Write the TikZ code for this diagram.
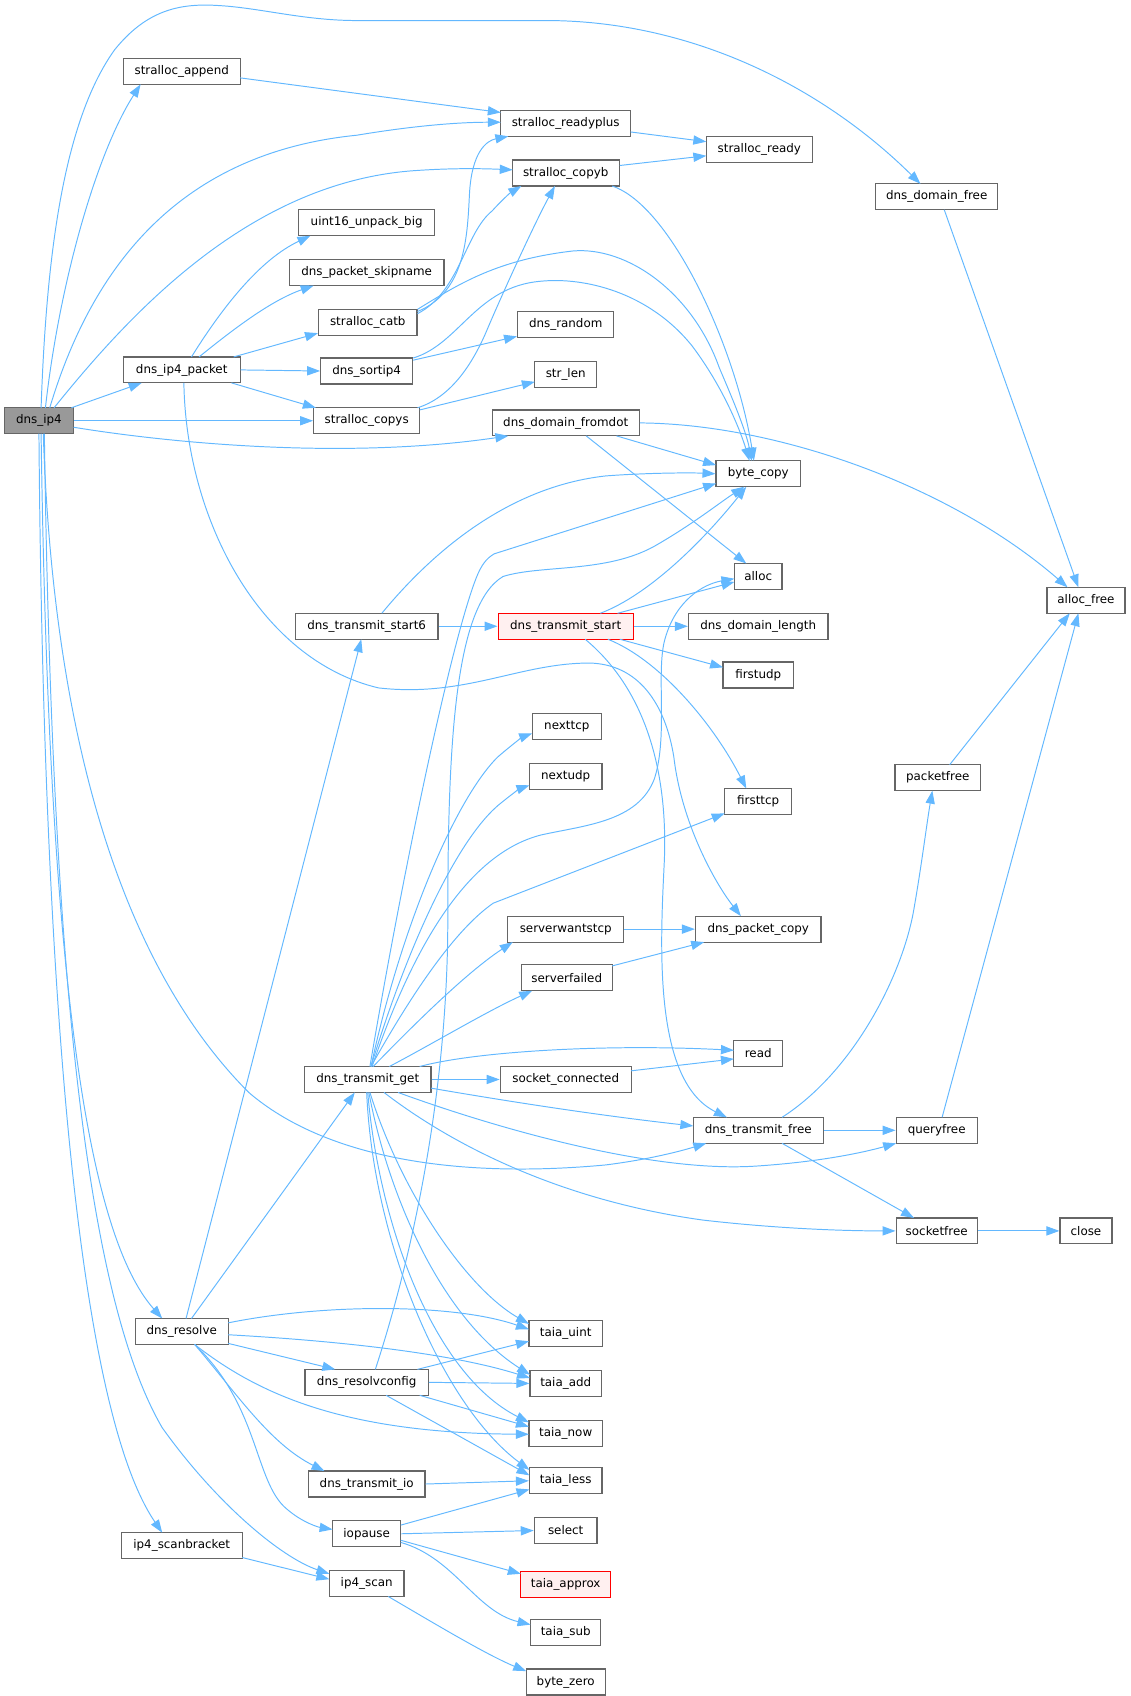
\documentclass[tikz,border=0pt]{standalone}
\usepackage{fontspec}
\setmainfont{DejaVu Sans}
\usetikzlibrary{arrows.meta}
\definecolor{edgeblue}{HTML}{63B8FF}
\definecolor{nodeborder}{HTML}{666666}
\definecolor{rootfill}{HTML}{999999}
\definecolor{hotfill}{HTML}{FFF0F0}
\tikzset{
  fn/.style={draw=nodeborder, line width=1.1pt, fill=white, minimum height=24pt,
    inner xsep=2pt, inner ysep=0pt, font=\fontsize{11}{13}\selectfont, text=black},
  root/.style={fn, fill=rootfill},
  hot/.style={fn, draw=red, fill=hotfill},
  e/.style={draw=edgeblue, line width=0.9pt, -{Triangle[length=12pt,width=8.5pt]}}
}
\begin{document}
\begin{tikzpicture}[x=1pt,y=-1pt]
\useasboundingbox (0,0) rectangle (1045,1568);
% nodes
\node[root, minimum width=64pt] (ip4) at (36,389) {dns\_ip4};
\node[fn, minimum width=108pt] (sapp) at (168,66) {stralloc\_append};
\node[fn, minimum width=120pt] (srp) at (523,114) {stralloc\_readyplus};
\node[fn, minimum width=98pt] (sr) at (702,138) {stralloc\_ready};
\node[fn, minimum width=99pt] (scb) at (523,160) {stralloc\_copyb};
\node[fn, minimum width=113pt] (ddf) at (866,182) {dns\_domain\_free};
\node[fn, minimum width=126pt] (u16) at (339,206) {uint16\_unpack\_big};
\node[fn, minimum width=143pt] (skip) at (339,252) {dns\_packet\_skipname};
\node[fn, minimum width=91pt] (catb) at (340,298) {stralloc\_catb};
\node[fn, minimum width=89pt] (rnd) at (523,300) {dns\_random};
\node[fn, minimum width=108pt] (pkt) at (168,342) {dns\_ip4\_packet};
\node[fn, minimum width=85pt] (sort) at (339,343) {dns\_sortip4};
\node[fn, minimum width=57pt] (slen) at (523,346) {str\_len};
\node[fn, minimum width=98pt] (scs) at (339,389) {stralloc\_copys};
\node[fn, minimum width=136pt] (dfd) at (523,391) {dns\_domain\_fromdot};
\node[fn, minimum width=78pt] (bc) at (701,438) {byte\_copy};
\node[fn, minimum width=44pt] (alloc) at (701,533) {alloc};
\node[fn, minimum width=72pt] (af) at (1004,555) {alloc\_free};
\node[fn, minimum width=132pt] (ts6) at (339,579) {dns\_transmit\_start6};
\node[hot, minimum width=125pt] (ts) at (523,579) {dns\_transmit\_start};
\node[fn, minimum width=129pt] (ddl) at (701,579) {dns\_domain\_length};
\node[fn, minimum width=65pt] (fudp) at (701,624) {firstudp};
\node[fn, minimum width=64pt] (ntcp) at (524,672) {nexttcp};
\node[fn, minimum width=79pt] (pf) at (867,719) {packetfree};
\node[fn, minimum width=67pt] (nudp) at (523,718) {nextudp};
\node[fn, minimum width=62pt] (ftcp) at (701,741) {firsttcp};
\node[fn, minimum width=107pt] (swt) at (523,859) {serverwantstcp};
\node[fn, minimum width=116pt] (dpc) at (701,859) {dns\_packet\_copy};
\node[fn, minimum width=84pt] (sf) at (524,904) {serverfailed};
\node[fn, minimum width=45pt] (rd) at (701,974) {read};
\node[fn, minimum width=117pt] (tg) at (340,998) {dns\_transmit\_get};
\node[fn, minimum width=121pt] (sc) at (523,998) {socket\_connected};
\node[fn, minimum width=120pt] (tf) at (701,1045) {dns\_transmit\_free};
\node[fn, minimum width=75pt] (qf) at (866,1045) {queryfree};
\node[fn, minimum width=75pt] (sfr) at (866,1138) {socketfree};
\node[fn, minimum width=48pt] (cl) at (1004,1138) {close};
\node[fn, minimum width=86pt] (res) at (168,1231) {dns\_resolve};
\node[fn, minimum width=68pt] (tu) at (523,1233) {taia\_uint};
\node[fn, minimum width=114pt] (rc) at (339,1278) {dns\_resolvconfig};
\node[fn, minimum width=66pt] (ta) at (523,1279) {taia\_add};
\node[fn, minimum width=68pt] (tn) at (523,1325) {taia\_now};
\node[fn, minimum width=108pt] (tio) at (339,1372) {dns\_transmit\_io};
\node[fn, minimum width=67pt] (tl) at (523,1369) {taia\_less};
\node[fn, minimum width=63pt] (iop) at (339,1418) {iopause};
\node[fn, minimum width=58pt] (sel) at (523,1415) {select};
\node[fn, minimum width=112pt] (isb) at (168,1429) {ip4\_scanbracket};
\node[hot, minimum width=83pt] (tap) at (523,1465) {taia\_approx};
\node[fn, minimum width=69pt] (isc) at (339,1464) {ip4\_scan};
\node[fn, minimum width=65pt] (tsub) at (523,1509) {taia\_sub};
\node[fn, minimum width=73pt] (bz) at (523,1555) {byte\_zero};
% edges from dns_ip4
\draw[e] ([shift={(6,-12)}]ip4.center) .. controls (55,260) and (90,140) .. ([shift={(-38,12)}]sapp.center);
\draw[e] ([shift={(2,-12)}]ip4.center) .. controls (43,230) and (60,110) .. (106,46) .. controls (135,10) and (165,3) .. (200,5) .. controls (240,7) and (280,19) .. (330,19) -- (508,19) .. controls (640,20) and (760,80) .. ([shift={(-15,-12)}]ddf.center);
\draw[e] ([shift={(10,-12)}]ip4.center) .. controls (90,230) and (180,140) .. (330,125) .. controls (390,115) and (430,113) .. ([shift={(-60,-1)}]srp.center);
\draw[e] ([shift={(14,-12)}]ip4.center) .. controls (120,290) and (230,170) .. (380,158) .. controls (420,155) and (450,156) .. ([shift={(-49,-3)}]scb.center);
\draw[e] ([shift={(30,-12)}]ip4.center) -- ([shift={(-37,12)}]pkt.center);
\draw[e] (ip4.east) -- (scs.west);
\draw[e] ([shift={(32,6)}]ip4.center) .. controls (160,410) and (320,425) .. ([shift={(-53,12)}]dfd.center);
\draw[e] ([shift={(4,12)}]ip4.center) .. controls (50,700) and (120,900) .. (230,1010) .. controls (300,1070) and (420,1090) .. (560,1077) .. controls (600,1072) and (630,1064) .. ([shift={(-48,12)}]tf.center);
\draw[e] ([shift={(2,12)}]ip4.center) .. controls (45,900) and (80,1140) .. ([shift={(-18,-12)}]res.center);
\draw[e] ([shift={(0,12)}]ip4.center) .. controls (40,900) and (70,1300) .. ([shift={(-18,-12)}]isb.center);
\draw[e] ([shift={(5,12)}]ip4.center) .. controls (48,900) and (80,1200) .. (150,1320) .. controls (200,1390) and (260,1440) .. ([shift={(-34.5,-9)}]isc.center);
% stralloc chain
\draw[e] ([shift={(54,6)}]sapp.center) -- ([shift={(-60,-10)}]srp.center);
\draw[e] ([shift={(60,8)}]srp.center) -- ([shift={(-49,-7)}]sr.center);
\draw[e] ([shift={(50,-7)}]scb.center) -- ([shift={(-49,6)}]sr.center);
\draw[e] ([shift={(43,12)}]scb.center) .. controls (620,190) and (680,320) .. ([shift={(-4,-12)}]bc.center);
\draw[e] ([shift={(7,12)}]ddf.center) -- ([shift={(-7,-12)}]af.center);
% dns_ip4_packet
\draw[e] ([shift={(9,-12)}]pkt.center) .. controls (205,285) and (240,240) .. ([shift={(-52,12)}]u16.center);
\draw[e] ([shift={(16,-12)}]pkt.center) .. controls (215,305) and (250,278) .. ([shift={(-49,12)}]skip.center);
\draw[e] ([shift={(48,-12)}]pkt.center) -- ([shift={(-46,10)}]catb.center);
\draw[e] (pkt.east) -- (sort.west);
\draw[e] ([shift={(46,12)}]pkt.center) -- ([shift={(-47,-12)}]scs.center);
\draw[e] ([shift={(2,12)}]pkt.center) .. controls (172,480) and (240,610) .. (350,636) .. controls (430,645) and (480,613) .. (545,613) .. controls (590,614) and (615,650) .. (623,700) .. controls (630,760) and (660,815) .. ([shift={(-16,-12)}]dpc.center);
% stralloc_catb
\draw[e] ([shift={(46,-10)}]catb.center) .. controls (430,270) and (432,220) .. (434,180) .. controls (436,140) and (450,130) .. ([shift={(-53,12)}]srp.center);
\draw[e] ([shift={(46,-8)}]catb.center) .. controls (425,270) and (430,215) .. (455,195) .. controls (463,186) and (472,178) .. ([shift={(-41,12)}]scb.center);
\draw[e] ([shift={(46,-12)}]catb.center) .. controls (425,262) and (460,240) .. (530,232) .. controls (580,228) and (640,270) .. (665,340) .. controls (680,375) and (690,400) .. ([shift={(-6,-12)}]bc.center);
% dns_sortip4
\draw[e] ([shift={(43,-10)}]sort.center) -- ([shift={(-45,11)}]rnd.center);
\draw[e] ([shift={(43,-12)}]sort.center) .. controls (425,318) and (440,265) .. (500,260) .. controls (540,256) and (600,270) .. (640,320) .. controls (670,360) and (685,400) .. ([shift={(-8,-12)}]bc.center);
% stralloc_copys
\draw[e] ([shift={(47,-12)}]scs.center) .. controls (415,368) and (435,340) .. (449,308) .. controls (465,270) and (495,205) .. ([shift={(-10,12)}]scb.center);
\draw[e] ([shift={(49,-10)}]scs.center) -- ([shift={(-28.5,7)}]slen.center);
% dns_domain_fromdot
\draw[e] ([shift={(47,12)}]dfd.center) -- ([shift={(-39,-8)}]bc.center);
\draw[e] ([shift={(19,12)}]dfd.center) -- ([shift={(-11,-12)}]alloc.center);
\draw[e] (dfd.east) .. controls (720,392) and (880,450) .. ([shift={(-17,-12)}]af.center);
% dns_transmit_start6
\draw[e] ([shift={(14,-12)}]ts6.center) .. controls (400,510) and (470,450) .. (560,440) .. controls (600,437) and (640,437) .. (bc.west);
\draw[e] (ts6.east) -- (ts.west);
% dns_transmit_start
\draw[e] ([shift={(32,-12)}]ts.center) .. controls (600,550) and (650,500) .. ([shift={(-11,12)}]bc.center);
\draw[e] ([shift={(48,-12)}]ts.center) -- ([shift={(-22,5)}]alloc.center);
\draw[e] (ts.east) -- (ddl.west);
\draw[e] ([shift={(50,12)}]ts.center) -- ([shift={(-32.5,-7)}]fudp.center);
\draw[e] ([shift={(39,12)}]ts.center) .. controls (610,610) and (660,670) .. ([shift={(-11,-12)}]ftcp.center);
\draw[e] ([shift={(18,12)}]ts.center) .. controls (600,640) and (618,720) .. (614,800) .. controls (610,880) and (605,1000) .. ([shift={(-29,-12)}]tf.center);
% dns_transmit_get
\draw[e] ([shift={(2,-12)}]tg.center) .. controls (370,820) and (415,600) .. (440,535) .. controls (445,522) and (450,516) .. (457,512) -- ([shift={(-39,9)}]bc.center);
\draw[e] ([shift={(4,-12)}]tg.center) .. controls (380,880) and (430,790) .. (500,772) .. controls (540,763) and (590,760) .. (605,720) .. controls (618,680) and (606,620) .. (615,590) .. controls (625,555) and (650,540) .. ([shift={(-22,2)}]alloc.center);
\draw[e] ([shift={(3,-12)}]tg.center) .. controls (370,860) and (420,740) .. (460,700) .. controls (475,687) and (484,681) .. ([shift={(-32,6)}]ntcp.center);
\draw[e] ([shift={(3,-12)}]tg.center) .. controls (375,880) and (420,780) .. (460,745) .. controls (472,735) and (481,729) .. ([shift={(-33.5,8)}]nudp.center);
\draw[e] ([shift={(3,-12)}]tg.center) .. controls (380,920) and (420,860) .. (456,835) -- ([shift={(-31,11)}]ftcp.center);
\draw[e] ([shift={(5,-12)}]tg.center) .. controls (380,950) and (430,900) .. ([shift={(-49,12)}]swt.center);
\draw[e] ([shift={(20,-12)}]tg.center) .. controls (400,965) and (450,935) .. ([shift={(-32,12)}]sf.center);
\draw[e] ([shift={(48,-12)}]tg.center) .. controls (440,972) and (560,965) .. ([shift={(-22.5,-3)}]rd.center);
\draw[e] (tg.east) -- (sc.west);
\draw[e] ([shift={(58.5,8)}]tg.center) .. controls (480,1020) and (560,1032) .. ([shift={(-60,-4)}]tf.center);
\draw[e] ([shift={(28,12)}]tg.center) .. controls (450,1040) and (600,1085) .. (700,1078) .. controls (760,1074) and (800,1065) .. ([shift={(-37.5,12)}]qf.center);
\draw[e] ([shift={(15,12)}]tg.center) .. controls (420,1060) and (520,1110) .. (650,1128) .. controls (720,1136) and (780,1138) .. (sfr.west);
\draw[e] ([shift={(2,12)}]tg.center) .. controls (370,1100) and (430,1190) .. ([shift={(-34,-9)}]tu.center);
\draw[e] ([shift={(1,12)}]tg.center) .. controls (360,1110) and (410,1220) .. ([shift={(-33,-8)}]ta.center);
\draw[e] ([shift={(0,12)}]tg.center) .. controls (350,1130) and (400,1270) .. ([shift={(-34,-10)}]tn.center);
\draw[e] ([shift={(-1,12)}]tg.center) .. controls (345,1150) and (410,1300) .. ([shift={(-33.5,-10)}]tl.center);
% misc rank 3/4
\draw[e] ([shift={(60.5,-8)}]sc.center) -- ([shift={(-22.5,5)}]rd.center);
\draw[e] (swt.east) -- (dpc.west);
\draw[e] ([shift={(42,-11)}]sf.center) -- ([shift={(-50,12)}]dpc.center);
\draw[e] ([shift={(22,-12)}]tf.center) .. controls (790,990) and (835,900) .. (845,840) .. controls (852,800) and (857,760) .. ([shift={(-5,12)}]pf.center);
\draw[e] (tf.east) -- (qf.west);
\draw[e] ([shift={(22,12)}]tf.center) -- ([shift={(-21,-12)}]sfr.center);
\draw[e] ([shift={(11,-12)}]pf.center) -- ([shift={(-15,12)}]af.center);
\draw[e] ([shift={(5,-12)}]qf.center) -- ([shift={(-7,12)}]af.center);
\draw[e] (sfr.east) -- (cl.west);
% dns_resolve
\draw[e] ([shift={(4,-12)}]res.center) -- ([shift={(-5,12)}]ts6.center);
\draw[e] ([shift={(9,-12)}]res.center) -- ([shift={(-12,12)}]tg.center);
\draw[e] ([shift={(43,-8)}]res.center) .. controls (300,1205) and (420,1205) .. ([shift={(-34,-4)}]tu.center);
\draw[e] ([shift={(43,3)}]res.center) .. controls (320,1240) and (420,1252) .. ([shift={(-33,-5)}]ta.center);
\draw[e] ([shift={(43,11)}]res.center) -- ([shift={(-29,-12)}]rc.center);
\draw[e] ([shift={(12,12)}]res.center) .. controls (240,1290) and (320,1325) .. ([shift={(-34,1)}]tn.center);
\draw[e] ([shift={(12,12)}]res.center) .. controls (220,1290) and (250,1335) .. ([shift={(-39,-12)}]tio.center);
\draw[e] ([shift={(12,12)}]res.center) .. controls (240,1300) and (235,1370) .. (265,1395) .. controls (280,1408) and (295,1412) .. ([shift={(-31.5,-4)}]iop.center);
% dns_resolvconfig
\draw[e] ([shift={(8,-12)}]rc.center) .. controls (385,1150) and (414,1000) .. (414,850) .. controls (414,690) and (420,560) .. (465,533) .. controls (500,522) and (560,530) .. (605,505) .. controls (640,485) and (665,465) .. ([shift={(-13,12)}]bc.center);
\draw[e] ([shift={(47,-12)}]rc.center) -- ([shift={(-34,7)}]tu.center);
\draw[e] (rc.east) -- (ta.west);
\draw[e] ([shift={(49,12)}]rc.center) -- ([shift={(-34,-6)}]tn.center);
\draw[e] ([shift={(18,12)}]rc.center) -- ([shift={(-33.5,-5)}]tl.center);
% bottom
\draw[e] (tio.east) -- (tl.west);
\draw[e] ([shift={(31.5,-8)}]iop.center) -- ([shift={(-33.5,8)}]tl.center);
\draw[e] (iop.east) -- (sel.west);
\draw[e] ([shift={(31.5,6)}]iop.center) -- ([shift={(-41.5,-10)}]tap.center);
\draw[e] ([shift={(31.5,8)}]iop.center) .. controls (420,1440) and (440,1490) .. ([shift={(-32.5,-7)}]tsub.center);
\draw[e] ([shift={(56,11)}]isb.center) -- ([shift={(-34.5,-4)}]isc.center);
\draw[e] ([shift={(20,12)}]isc.center) .. controls (400,1500) and (450,1530) .. ([shift={(-36.5,-10)}]bz.center);
\end{tikzpicture}
\end{document}
